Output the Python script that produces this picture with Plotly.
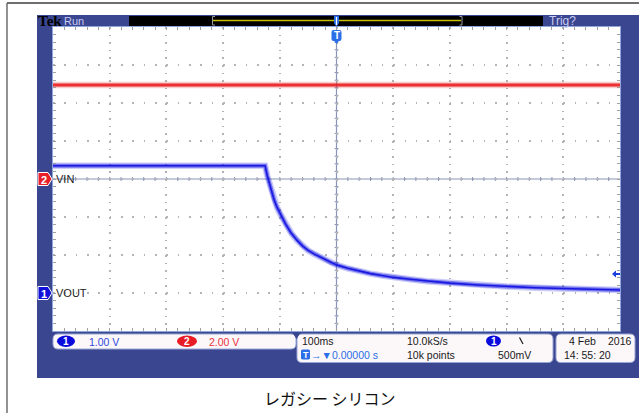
import plotly.graph_objects as go

W, H = 639, 413

# Horizontal: 100 ms/div, trigger at screen centre
TIME_RANGE = [-500, 500]

# Channel 1 (VOUT), 1.00 V/div, ground 3 div below centre
vout_t = [-500, -300, -130, -126, -122, -118, -114, -110, -105, -100, -90, -80, -70,
          -60, -50, -40, -29, -20, -10, 0, 20, 40, 60, 80, 100, 130, 160, 200,
          250, 300, 350, 400, 450, 500]
vout_v = [3.35, 3.35, 3.35, 3.35, 3.08, 2.85, 2.64, 2.45, 2.26, 2.10, 1.82, 1.58, 1.39,
          1.24, 1.12, 1.03, 0.95, 0.88, 0.80, 0.74, 0.65, 0.57, 0.51, 0.46, 0.41, 0.36,
          0.31, 0.26, 0.21, 0.17, 0.14, 0.12, 0.10, 0.08]

# Channel 2 (VIN), 2.00 V/div, ground at centre
vin_t = [-500, 500]
vin_v = [4.95, 4.95]

CH1_RANGE = [-1, 7]
CH2_RANGE = [-8, 8]
TRIG_LEVEL = 0.5   # 500 mV on channel 1

# screen geometry (pixels)
L, R, T, B = 53, 620, 27, 331
FRAME = "#3a4690"
SCOPE_FONT = "Liberation Sans, Arial, sans-serif"
FS = 10.5


def px(x):
    return x / W


def py(y):
    return 1 - y / H


def poly(points):
    s = "M " + " L ".join(f"{px(x):.5f},{py(y):.5f}" for x, y in points) + " Z"
    return s


def rounded(x0, y0, x1, y1, r):
    pts = [
        f"M {px(x0 + r):.5f},{py(y0):.5f}",
        f"L {px(x1 - r):.5f},{py(y0):.5f}",
        f"Q {px(x1):.5f},{py(y0):.5f} {px(x1):.5f},{py(y0 + r):.5f}",
        f"L {px(x1):.5f},{py(y1 - r):.5f}",
        f"Q {px(x1):.5f},{py(y1):.5f} {px(x1 - r):.5f},{py(y1):.5f}",
        f"L {px(x0 + r):.5f},{py(y1):.5f}",
        f"Q {px(x0):.5f},{py(y1):.5f} {px(x0):.5f},{py(y1 - r):.5f}",
        f"L {px(x0):.5f},{py(y0 + r):.5f}",
        f"Q {px(x0):.5f},{py(y0):.5f} {px(x0 + r):.5f},{py(y0):.5f}",
        "Z",
    ]
    return " ".join(pts)


shapes = []
annotations = []


def rect(x0, y0, x1, y1, fill, line=None, lw=0, layer="below"):
    shapes.append(dict(type="rect", xref="paper", yref="paper",
                       x0=px(x0), x1=px(x1), y0=py(y1), y1=py(y0),
                       fillcolor=fill, line=dict(color=line or fill, width=lw),
                       layer=layer))


def path(d, fill, line=None, lw=0, layer="above"):
    shapes.append(dict(type="path", xref="paper", yref="paper", path=d,
                       fillcolor=fill, line=dict(color=line or fill, width=lw),
                       layer=layer))


def seg(x0, y0, x1, y1, color, width=1, layer="above", dash=None):
    ln = dict(color=color, width=width)
    if dash:
        ln["dash"] = dash
    shapes.append(dict(type="line", xref="paper", yref="paper",
                       x0=px(x0), x1=px(x1), y0=py(y0), y1=py(y1),
                       line=ln, layer=layer))


def ellipse(x0, y0, x1, y1, fill):
    shapes.append(dict(type="circle", xref="paper", yref="paper",
                       x0=px(x0), x1=px(x1), y0=py(y1), y1=py(y0),
                       fillcolor=fill, line=dict(color=fill, width=0), layer="above"))


def text(x, y, s, color="#1a1a1a", size=FS, anchor="left", family=SCOPE_FONT, bold=False):
    if bold:
        s = f"<b>{s}</b>"
    annotations.append(dict(x=px(x), y=py(y), xref="paper", yref="paper", text=s,
                            showarrow=False, xanchor=anchor, yanchor="middle",
                            borderpad=0,
                            font=dict(color=color, size=size, family=family)))


# outer page rules
seg(7, 3, W, 3, "#6e6e6e", 2, layer="below")
seg(7, 3, 7, H, "#6e6e6e", 1.5, layer="below")

# instrument frame and graticule background
rect(37, 15, W, 378, FRAME)
rect(L, T, R, B, "#ffffff")

# top status bar
rect(129, 16, 543, 26, "#000000")
seg(213, 20.5, 461, 20.5, "#c8c000", 1.5)
seg(212.5, 16.5, 212.5, 25, "#9a9a9a", 1)
seg(212.5, 16.5, 215, 16.5, "#9a9a9a", 1)
seg(212.5, 25, 215, 25, "#9a9a9a", 1)
seg(462, 16.5, 462, 25, "#9a9a9a", 1)
seg(459.5, 16.5, 462, 16.5, "#9a9a9a", 1)
seg(459.5, 25, 462, 25, "#9a9a9a", 1)
text(37, 21, "Tek", "#000000", 15, family="Liberation Serif, DejaVu Serif, serif", bold=True)
text(63, 21, "Run", "#c8ccf2", 11)
text(548, 21, "Trig?", "#c8ccf2", 12)

# trigger position markers
cx = (L + R) / 2
path(poly([(cx - 2.5, 16), (cx + 2.5, 16), (cx + 2.5, 23), (cx, 27), (cx - 2.5, 23)]), "#2a6ee8")
seg(cx, 17, cx, 25, "#ffffff", 1.2)
path(rounded(cx - 5, 30, cx + 5, 41, 2), "#2a6ee8")
path(poly([(cx - 3, 40), (cx + 3, 40), (cx, 44)]), "#2a6ee8")
text(cx, 35.5, "T", "#ffffff", 10, anchor="center", bold=True)

# centre cross lines with minor ticks
ppx = (R - L) / 10 / 5
ppy = (B - T) / 8 / 5
cy = (T + B) / 2
seg(L, cy, R, cy, "#8a94b8", 1.2, layer="below")
seg(cx, T, cx, B, "#8a94b8", 1.2, layer="below")
for k in range(1, 50):
    x = L + k * ppx
    seg(x, cy - 2, x, cy + 2, "#8a94b8", 1, layer="below")
for k in range(1, 40):
    y = T + k * ppy
    seg(cx - 2, y, cx + 2, y, "#8a94b8", 1, layer="below")


# channel ground markers on the left
def ch_marker(yc, fill, label):
    path(poly([(38, yc - 6.5), (48, yc - 6.5), (52, yc), (48, yc + 6.5), (38, yc + 6.5)]),
         fill, "#ffffff", 1)
    text(43.5, yc + 0.5, label, "#ffffff", 11, anchor="center", bold=True)


y_per_v1 = (B - T) / (CH1_RANGE[1] - CH1_RANGE[0])
y_vout = B - (0 - CH1_RANGE[0]) * y_per_v1
y_per_v2 = (B - T) / (CH2_RANGE[1] - CH2_RANGE[0])
y_vin = B - (0 - CH2_RANGE[0]) * y_per_v2
ch_marker(y_vin, "#e8202a", "2")
ch_marker(y_vout, "#1010d8", "1")
text(55, y_vin, "VIN", "#222222", 11)
text(55, y_vout, "VOUT", "#222222", 11)

# trigger level arrow on the right edge
y_trig = B - (TRIG_LEVEL - CH1_RANGE[0]) * y_per_v1
path(poly([(612, y_trig), (616, y_trig - 3.5), (616, y_trig - 1), (620, y_trig - 1),
           (620, y_trig + 1), (616, y_trig + 1), (616, y_trig + 3.5)]), "#1a3ee0")

# bottom readout panels
PANEL = "#fcf7f9"
PANEL_EDGE = "#9aa6d6"
path(rounded(53, 334, 296, 349, 5), PANEL, PANEL_EDGE, 1, layer="below")
path(rounded(297, 334, 553, 362.5, 5), PANEL, PANEL_EDGE, 1, layer="below")
path(rounded(556, 334, 635, 362.5, 5), PANEL, PANEL_EDGE, 1, layer="below")
path(poly([(293, 333.5), (300, 333.5), (296.5, 339)]), FRAME)

ellipse(57, 335.5, 75, 347, "#0a0adc")
text(66, 341.5, "1", "#ffffff", 10, anchor="center", bold=True)
text(88, 341.5, "1.00 V", "#3048e0")
ellipse(177, 335.5, 197, 347, "#e81c24")
text(187, 341.5, "2", "#ffffff", 10, anchor="center", bold=True)
text(208, 341.5, "2.00 V", "#e83040")

text(301, 341, "100ms")
path(rounded(301, 349.5, 310, 359.5, 1.5), "#2a6ee8")
text(305.5, 354.8, "T", "#ffffff", 9, anchor="center", bold=True)
text(310, 355, "→▼0.00000 s", "#2a6ee8")
text(406, 341, "10.0kS/s")
text(406, 355, "10k points")
ellipse(486, 335.5, 501, 346.5, "#0a0adc")
text(493.5, 341.2, "1", "#ffffff", 10, anchor="center", bold=True)
seg(519.5, 337.5, 523, 344, "#1a1a1a", 1.2)
text(497, 355, "500mV")
text(568, 341, "4 Feb")
text(633, 341, "2016", anchor="right")
text(563, 355, "14: 55: 20")

# caption
text(330, 398, "レガシー シリコン", "#111111", 16, anchor="center",
     family="Noto Sans CJK JP, sans-serif")

fig = go.Figure()


def add_channel(t, v, axis, rgb, name):
    r, g, b = rgb
    # noise envelope, then the trace core
    fig.add_trace(go.Scatter(x=t, y=v, yaxis=axis, mode="lines",
                             line=dict(color=f"rgba({r},{g},{b},0.22)", width=6.5),
                             hoverinfo="skip", showlegend=False))
    fig.add_trace(go.Scatter(x=t, y=v, yaxis=axis, mode="lines",
                             line=dict(color=f"rgba({r},{g},{b},0.5)", width=4),
                             hoverinfo="skip", showlegend=False))
    fig.add_trace(go.Scatter(x=t, y=v, yaxis=axis, mode="lines",
                             line=dict(color=f"rgb({r},{g},{b})", width=1.6),
                             name=name, showlegend=False))


add_channel(vin_t, vin_v, "y2", (232, 28, 28), "VIN")
add_channel(vout_t, vout_v, "y", (25, 25, 225), "VOUT")

axis_common = dict(showticklabels=False, zeroline=False, showline=True,
                   linecolor="#8fa6dc", linewidth=1, mirror="ticks",
                   ticks="inside", ticklen=3, tickcolor="#a0a0a0", tickwidth=1,
                   gridcolor="#b4b4b4", gridwidth=1.5, fixedrange=True)

fig.update_layout(
    width=W, height=H,
    margin=dict(l=0, r=0, t=0, b=0),
    paper_bgcolor="#ffffff",
    plot_bgcolor="rgba(0,0,0,0)",
    xaxis=dict(domain=[px(L), px(R)], range=TIME_RANGE, dtick=100,
               griddash="1.5px,6.1px",
               minor=dict(dtick=20, ticks="inside", ticklen=3, tickcolor="#a0a0a0",
                          showgrid=False),
               **axis_common),
    yaxis=dict(domain=[py(B), py(T)], range=CH1_RANGE, dtick=1,
               griddash="1.5px,9.84px",
               minor=dict(dtick=0.2, ticks="inside", ticklen=3, tickcolor="#a0a0a0",
                          showgrid=False),
               **axis_common),
    yaxis2=dict(domain=[py(B), py(T)], range=CH2_RANGE, overlaying="y",
                visible=False, fixedrange=True),
    shapes=shapes,
    annotations=annotations,
    showlegend=False,
)

fig.write_html("out.html")
